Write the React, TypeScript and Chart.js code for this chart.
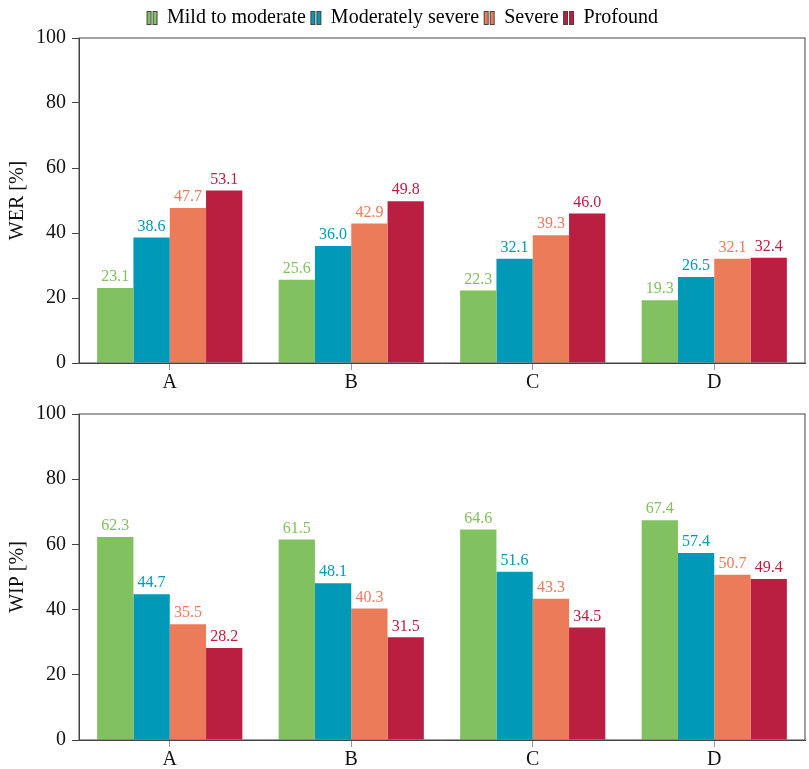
import { useEffect, useRef } from 'react';
import { Chart, registerables } from 'chart.js';

Chart.register(...registerables);

const categories = ['A', 'B', 'C', 'D'];
const seriesNames = ['Mild to moderate', 'Moderately severe', 'Severe', 'Profound'];
const colors = ['#82c160', '#009ab8', '#ec7b5a', '#ba1e40'];

const werMild = [23.1, 25.6, 22.3, 19.3];
const werModSevere = [38.6, 36.0, 32.1, 26.5];
const werSevere = [47.7, 42.9, 39.3, 32.1];
const werProfound = [53.1, 49.8, 46.0, 32.4];

const wipMild = [62.3, 61.5, 64.6, 67.4];
const wipModSevere = [44.7, 48.1, 51.6, 57.4];
const wipSevere = [35.5, 40.3, 43.3, 50.7];
const wipProfound = [28.2, 31.5, 34.5, 49.4];

const yTicks = [0, 20, 40, 60, 80, 100];

const FONT = '"Liberation Serif", "Times New Roman", serif';

// little two-bar glyph used as legend marker
function legendGlyph(color: string) {
  const c = document.createElement('canvas');
  c.width = 13;
  c.height = 16;
  const g = c.getContext('2d')!;
  g.fillStyle = color;
  g.strokeStyle = '#444';
  g.lineWidth = 1;
  g.fillRect(1.5, 1.5, 4, 13);
  g.strokeRect(1.5, 1.5, 4, 13);
  g.fillRect(7.5, 1.5, 4, 13);
  g.strokeRect(7.5, 1.5, 4, 13);
  return c;
}

const framePlugin = {
  id: 'frame',
  afterDraw(chart: any) {
    const { ctx, chartArea: a } = chart;
    ctx.save();
    ctx.strokeStyle = '#444';
    ctx.lineWidth = 1;
    ctx.strokeRect(a.left, a.top, a.right - a.left, a.bottom - a.top);
    ctx.restore();
  },
};

const valueLabels = {
  id: 'valueLabels',
  afterDatasetsDraw(chart: any) {
    const { ctx } = chart;
    ctx.save();
    ctx.font = `16px ${FONT}`;
    ctx.textAlign = 'center';
    ctx.textBaseline = 'bottom';
    chart.data.datasets.forEach((ds: any, i: number) => {
      const meta = chart.getDatasetMeta(i);
      ctx.fillStyle = ds.backgroundColor;
      meta.data.forEach((el: any, j: number) => {
        ctx.fillText(ds.data[j].toFixed(1), el.x, el.y - 3);
      });
    });
    ctx.restore();
  },
};

function BarPanel({
  series,
  yTitle,
  showLegend,
  height,
  padTop,
}: {
  series: number[][];
  yTitle: string;
  showLegend: boolean;
  height: number;
  padTop: number;
}) {
  const canvasRef = useRef<HTMLCanvasElement>(null);
  const chartRef = useRef<Chart | null>(null);

  useEffect(() => {
    if (!canvasRef.current) return;
    if (chartRef.current) {
      chartRef.current.destroy();
      chartRef.current = null;
    }

    chartRef.current = new Chart(canvasRef.current, {
      type: 'bar',
      data: {
        labels: categories,
        datasets: series.map((d, i) => ({
          label: seriesNames[i],
          data: d,
          backgroundColor: colors[i],
          borderWidth: 0,
          categoryPercentage: 0.8,
          barPercentage: 1,
        })),
      },
      options: {
        animation: false,
        responsive: false,
        layout: { padding: { top: padTop, right: 4, left: 0, bottom: 0 } },
        plugins: {
          tooltip: { enabled: false },
          legend: {
            display: showLegend,
            position: 'top',
            labels: {
              font: { family: FONT, size: 20 },
              color: '#111',
              padding: 5,
              boxWidth: 10,
              boxHeight: 16,
              usePointStyle: true,
              generateLabels: (chart: any) =>
                chart.data.datasets.map((ds: any, i: number) => ({
                  text: ds.label,
                  fillStyle: ds.backgroundColor,
                  strokeStyle: '#444',
                  lineWidth: 0,
                  pointStyle: legendGlyph(ds.backgroundColor),
                  datasetIndex: i,
                  hidden: false,
                })),
            },
          },
        },
        scales: {
          x: {
            grid: {
              display: true,
              offset: false,
              drawOnChartArea: false,
              drawTicks: true,
              tickLength: 7,
              color: '#999',
            },
            border: { display: true, color: '#444' },
            ticks: { font: { family: FONT, size: 20 }, color: '#111', padding: 1 },
            afterFit: (s: any) => {
              s.height = 29;
            },
          },
          y: {
            min: 0,
            max: 100,
            afterBuildTicks: (s: any) => {
              s.ticks = yTicks.map((v) => ({ value: v }));
            },
            grid: {
              display: true,
              drawOnChartArea: false,
              drawTicks: true,
              tickLength: 7,
              color: '#444',
            },
            border: { display: true, color: '#444' },
            ticks: { font: { family: FONT, size: 20 }, color: '#111', padding: 6 },
            title: {
              display: true,
              text: yTitle,
              font: { family: FONT, size: 20 },
              color: '#111',
              padding: { top: 6, bottom: 0 },
            },
            afterFit: (s: any) => {
              s.width = 79;
            },
          },
        },
      },
      plugins: [framePlugin, valueLabels],
    });

    return () => {
      if (chartRef.current) {
        chartRef.current.destroy();
        chartRef.current = null;
      }
    };
  }, [series, yTitle, showLegend, padTop]);

  return (
    <div style={{ width: 809, height }}>
      <canvas ref={canvasRef} width={809} height={height} />
    </div>
  );
}

export default function App() {
  useEffect(() => {
    document.body.style.margin = '0';
  }, []);

  return (
    <div style={{ width: 809, height: 769, background: '#fff' }}>
      <BarPanel
        series={[werMild, werModSevere, werSevere, werProfound]}
        yTitle="WER [%]"
        showLegend={true}
        height={392}
        padTop={3}
      />
      <BarPanel
        series={[wipMild, wipModSevere, wipSevere, wipProfound]}
        yTitle="WIP [%]"
        showLegend={false}
        height={377}
        padTop={22}
      />
    </div>
  );
}
